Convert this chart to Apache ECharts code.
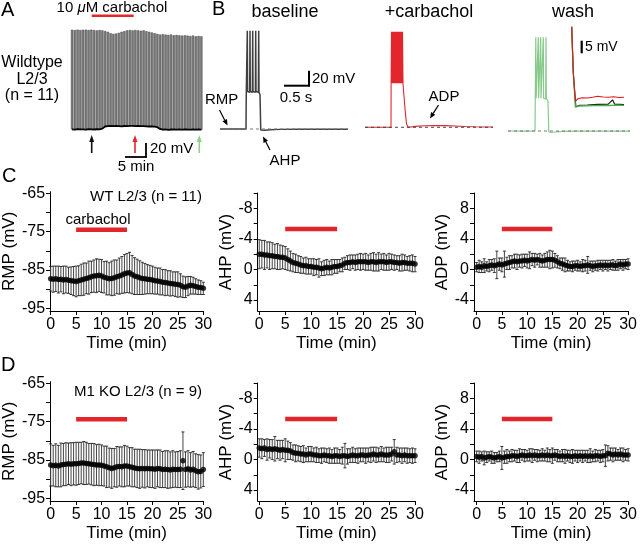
<!DOCTYPE html>
<html><head><meta charset="utf-8">
<script src="https://cdn.jsdelivr.net/npm/echarts@6/dist/echarts.min.js"></script>
<style>html,body{margin:0;padding:0;background:#fff}#c{width:640px;height:544px}</style>
</head><body><div id="c"></div>
<script>
const FONT = '"Liberation Sans", Arial, Helvetica, sans-serif';
const RED = '#e3262b', GREEN = '#86c98a';

// ---------- Panel A: sweep envelope (mV) ----------
const sweepNo = [1,2,3,4,5,6,7,8,9,10,11,12,13,14,15,16,17,18,19,20,21,22,23,24,25,26,27,28,29,30,31,32,33,34,35,36,37,38,39,40,41,42,43,44,45,46,47,48];
const sweepTop = [55,54.5,55,54.5,55,55, 54.5,55,54.5,54,54.5,54, 53,52,50,49, 49.5,50.5,52,53,
  54,54.5,54,54.5,54,53.5,54, 53,52,51,50,49,48, 48.5,48,47.5,48,47,47.5,47,46.5,47, 46.5,46,46.5,45.5,46,45.5];
const sweepBase = [-87,-87.5,-86.8,-87.2,-87,-87.5,-86.8,-87,-87.3,-86.9,-87.1,-86,
  -83,-82.5,-82.3,-82.6,-82.2,-82.4,-82.8,-82.3,-82.5,-82.2,-82,-82.4,-82.3,-82.6,-82.5,-82.8,-83,-82.7,-83.2,-84,
  -86.5,-87.5,-87,-87.8,-87.3,-87,-87.5,-87.2,-87.6,-87,-87.3,-87.5,-87,-87.4,-87.2,-87.5];
const carbPeriod = [5, 15];

// ---------- Panel B: example traces [time s, mV] ----------
const baselineTrace = [[0,-87],[0.2,-87.1],[0.4,-86.9],[0.52,-87],[0.525,-42],[0.54,-40],[0.546,44],[0.552,-37],[0.594,-38],[0.6,44],[0.606,-37],[0.648,-38],[0.654,44],[0.66,-37],[0.708,-38],[0.714,44],[0.72,-37],[0.768,-38],[0.774,44],[0.78,-38],[0.8,-41],[0.815,-88.5],[0.84,-89.4],[0.9,-88.8],[1.0,-88.0],[1.2,-87.5],[1.6,-87.3],[2.0,-87.2],[2.56,-87.2]];
const carbTrace = [[0,-84.7],[0.3,-84.6],[0.52,-84.7],[0.522,-30],[0.53,42.7],[0.54,-26],[0.55,42.7],[0.56,-26],[0.57,42.7],[0.58,-26],[0.59,42.7],[0.6,-26],[0.61,42.7],[0.62,-26],[0.63,42.7],[0.64,-26],[0.65,42.7],[0.66,-26],[0.67,42.7],[0.68,-26],[0.69,42.7],[0.70,-26],[0.71,42.7],[0.72,-26],[0.73,42.7],[0.74,-26],[0.75,42.7],[0.76,-27],[0.78,-28],[0.8,-60],[0.83,-80],[0.86,-84.5],[0.92,-84.3],[1.0,-83.5],[1.2,-82.6],[1.4,-82.3],[1.6,-82.5],[1.8,-83.0],[2.0,-83.6],[2.2,-84.0],[2.4,-84.3],[2.56,-84.4]];
const washTrace = [[0,-89.7],[0.3,-89.8],[0.54,-89.7],[0.545,-50],[0.556,35.3],[0.562,-46],[0.6,-47],[0.606,35.3],[0.612,-46],[0.648,-47],[0.654,35.3],[0.66,-46],[0.70,-47],[0.706,35.3],[0.712,-46],[0.754,-47],[0.76,35.3],[0.766,-46],[0.79,-48],[0.8,-50],[0.815,-90.5],[0.86,-91.7],[0.95,-91.0],[1.1,-90.2],[1.4,-89.9],[1.8,-89.8],[2.44,-89.8]];
const baselineRMP = [-87, -84.7, -89.7];
const insetRed = [[0,-0.7],[0.03,-20],[0.07,-32.3],[0.12,-31.2],[0.2,-30.8],[0.3,-30.9],[0.4,-30.6],[0.5,-30.2],[0.6,-30.5],[0.7,-30.6],[0.8,-30.4],[0.9,-30.7],[1.0,-30.6]];
const insetBlack = [[0,-0.7],[0.03,-20],[0.08,-34.6],[0.15,-34.0],[0.3,-33.9],[0.5,-33.6],[0.7,-33.5],[0.78,-31.7],[0.82,-33.5],[1.0,-33.7]];
const insetGreen = [[0,-0.7],[0.03,-20],[0.07,-34.8],[0.15,-34.3],[0.3,-34.2],[0.5,-34.0],[0.7,-34.1],[0.9,-33.9],[1.0,-34.0]];

// ---------- Panels C/D: time course ----------
const timeMin = [0,0.5,1,1.5,2,2.5,3,3.5,4,4.5,5,5.5,6,6.5,7,7.5,8,8.5,9,9.5,10,10.5,11,11.5,12,12.5,13,13.5,14,14.5,15,15.5,16,16.5,17,17.5,18,18.5,19,19.5,20,20.5,21,21.5,22,22.5,23,23.5,24,24.5,25,25.5,26,26.5,27,27.5,28,28.5,29,29.5,30];
const wtRMP = [-87.3,-87.4,-87.3,-87.5,-87.4,-87.6,-87.5,-87.7,-87.8,-87.9, -88.0,-87.8,-87.6,-87.4,-87.2,-87.0,-86.8,-86.6,-86.5,-86.4,
  -86.6,-86.9,-87.1,-87.3,-87.2,-87.0,-86.8,-86.6,-86.3,-86.0, -85.8,-85.7,-86.2,-86.6,-86.8,-87.0,-87.2,-87.3,-87.4,-87.5,
  -87.6,-87.8,-87.9,-88.0,-88.2,-88.3,-88.4,-88.5,-88.6,-88.7, -88.8,-89.0,-89.4,-89.5,-89.2,-89.0,-89.1,-89.3,-89.5,-89.6,-89.8];
const wtRMPerr = [3.2,3.4,3.3,3.5,3.3,3.6,3.5,3.4,3.6,3.8, 4.0,3.9,4.1,4.2,4.0,4.3,4.1,4.2,4.4,4.2,
  4.3,4.1,4.4,4.2,4.5,4.6,4.4,4.7,4.8,5.0, 5.1,5.3,5.0,4.8,4.6,4.4,4.2,4.0,3.8,3.7,
  3.6,3.5,3.4,3.5,3.3,3.4,3.2,3.3,3.1,3.2, 3.3,3.0,2.8,2.7,2.5,2.3,2.2,2.0,1.9,1.8,1.6];
const wtAHP = [-2.0,-2.0,-1.9,-1.9,-1.8,-1.8,-1.7,-1.7,-1.6,-1.6, -1.5,-1.3,-1.1,-0.9,-0.8,-0.7,-0.6,-0.5,-0.5,-0.4,
  -0.4,-0.3,-0.3,-0.2,-0.1,-0.2,-0.3,-0.2,-0.3,-0.4, -0.4,-0.5,-0.6,-0.8,-0.9,-0.9,-1.0,-0.9,-1.0,-1.0,
  -1.0,-1.0,-0.9,-1.0,-1.0,-0.9,-1.0,-1.0,-1.0,-0.9, -1.0,-1.0,-0.9,-0.9,-0.8,-0.9,-0.9,-0.8,-0.8,-0.8,-0.7];
const wtAHPerr = [1.9,1.8,1.9,1.7,1.8,1.7,1.6,1.7,1.6,1.5, 1.5,1.4,1.3,1.2,1.2,1.1,1.1,1.0,1.1,1.0,
  1.0,1.1,1.0,1.2,0.9,1.0,1.0,0.9,1.0,0.9, 0.9,0.8,0.9,0.8,0.9,1.0,0.9,1.0,1.0,1.1,
  1.0,1.1,1.0,1.1,1.2,1.1,1.2,1.0,1.1,1.0, 1.1,1.0,1.0,0.9,1.0,1.1,1.0,0.9,1.0,1.1,1.0];
const wtADP = [0.3,0.4,0.3,0.5,0.4,0.5,0.6,0.5,0.6,0.7, 0.6,0.7,0.8,0.9,1.0,1.1,1.0,1.1,1.1,1.2,
  1.1,1.2,1.3,1.2,1.3,1.2,1.1,1.2,1.3,1.3, 1.3,1.2,1.0,0.8,0.7,0.6,0.5,0.4,0.4,0.5,
  0.5,0.4,0.5,0.5,0.6,0.5,0.4,0.5,0.5,0.6, 0.5,0.6,0.5,0.6,0.6,0.5,0.6,0.7,0.6,0.7,0.7];
const wtADPerr = [0.6,0.8,0.7,0.9,0.6,0.8,0.7,0.9,1.8,0.8, 0.9,1.7,0.8,0.9,0.8,0.9,1.0,0.8,0.9,0.8,
  0.9,1.1,0.8,0.9,0.7,0.9,0.8,0.9,1.0,1.2, 1.1,0.9,0.8,0.7,0.8,0.9,0.7,0.6,0.7,0.6,
  0.7,0.6,0.8,0.7,1.1,0.6,0.7,0.6,0.7,0.6, 0.7,0.6,0.7,0.6,0.7,0.6,0.7,0.6,0.7,0.6,0.7];
const koRMP = [-86.3,-86.5,-86.4,-86.6,-86.3,-86.2,-86.1,-86.0,-86.1,-86.0, -86.0,-85.9,-85.8,-85.8,-85.9,-86.0,-86.1,-86.2,-86.3,-86.3,
  -86.4,-86.6,-86.8,-87.0,-87.2,-87.0,-86.8,-86.7,-86.8,-86.6, -86.6,-86.8,-86.9,-87.1,-87.2,-87.3,-87.2,-87.3,-87.2,-87.3,
  -87.3,-87.4,-87.2,-87.3,-87.5,-87.4,-87.5,-87.6,-87.4,-87.5, -87.5,-87.4,-85.2,-87.5,-87.3,-87.6,-87.4,-87.8,-88.1,-88.0,-87.5];
const koRMPerr = [5.5,5.3,5.6,5.4,5.7,5.5,5.6,5.4,5.6,5.5, 5.6,5.5,5.4,5.6,5.5,5.3,5.4,5.5,5.3,5.4,
  5.3,5.2,5.4,5.1,5.2,5.0,5.3,5.1,5.2,5.4, 5.2,5.0,5.1,4.9,5.0,5.1,4.9,5.0,4.8,4.9,
  4.9,5.0,4.8,4.9,4.7,4.8,4.9,4.7,4.8,4.6, 4.7,4.8,7.5,4.6,4.7,4.5,4.6,4.4,4.5,4.3,4.4];
const koAHP = [-1.5,-1.4,-1.5,-1.3,-1.4,-1.3,-1.4,-1.3,-1.2,-1.3, -1.2,-1.2,-1.1,-0.9,-0.8,-0.8,-0.7,-0.7,-0.6,-0.7,
  -0.7,-0.6,-0.6,-0.5,-0.5,-0.6,-0.5,-0.5,-0.4,-0.5, -0.5,-0.4,-0.5,-0.5,-0.4,-0.5,-0.6,-0.5,-0.5,-0.6,
  -0.6,-0.5,-0.6,-0.6,-0.7,-0.6,-0.6,-0.7,-0.6,-0.6, -0.6,-0.7,-1.0,-0.6,-0.6,-0.5,-0.6,-0.5,-0.5,-0.5,-0.5];
const koAHPerr = [1.2,1.3,1.1,1.4,1.2,1.3,1.6,1.2,1.3,1.2, 1.5,1.2,1.1,1.0,1.1,1.0,1.0,1.1,0.9,1.0,
  1.0,0.9,1.0,0.9,1.0,0.9,0.9,1.0,0.9,1.0, 1.0,0.9,1.1,1.6,1.0,0.9,1.0,0.9,1.0,0.9,
  0.9,1.0,0.9,1.0,0.9,1.0,0.9,1.0,0.9,1.0, 1.0,0.9,1.6,1.0,0.9,1.0,0.9,1.0,0.9,1.0,0.9];
const koADP = [0.4,0.3,0.4,0.2,0.3,0.4,0.3,0.2,0.3,0.4, 0.2,0.3,0.4,0.4,0.5,0.5,0.4,0.5,0.6,0.5,
  0.5,0.6,0.5,0.6,0.5,0.5,0.6,0.5,0.6,0.5, 0.5,0.6,0.5,0.4,0.5,0.4,0.5,0.4,0.4,0.5,
  0.4,0.5,0.4,0.5,0.4,0.5,0.4,0.5,0.5,0.4, 0.5,0.5,0.8,0.7,0.6,0.7,0.6,0.7,0.6,0.6,0.6];
const koADPerr = [0.7,0.8,0.6,0.9,0.7,0.6,0.8,0.7,0.6,0.7, 1.5,0.8,0.9,0.7,0.8,0.7,0.8,0.9,0.7,0.8,
  0.7,0.8,0.9,0.7,0.8,0.7,0.8,0.7,0.9,0.8, 1.0,0.7,0.8,0.7,0.8,0.9,0.7,0.8,0.9,0.7,
  0.8,0.7,0.8,0.7,0.8,0.9,0.7,0.8,0.7,0.8, 0.8,1.4,1.0,0.8,0.9,0.8,0.7,0.8,0.9,0.7,0.8];
const xTicks = [0,5,10,15,20,25,30];
const rmpTicks = [-95,-90,-85,-80,-75,-70,-65], rmpLabels = [-95,-85,-75,-65];
const ahpTicks = [-10,-8,-6,-4,-2,0,2,4], ahpLabels = [-8,-4,0,4];
const adpTicks = [-4,-2,0,2,4,6,8,10], adpLabels = [-4,0,4,8];

const chart = echarts.init(document.getElementById('c'));

const grids = [
  {left:70.7, top:15.2, width:132, height:130.2},   // 0 A
  {left:220, top:18.75, width:128, height:120},     // 1 B baseline
  {left:365, top:18.75, width:128, height:120},     // 2 B carbachol
  {left:508, top:18.75, width:122, height:120},     // 3 B wash
  {left:571.7, top:25, width:52.3, height:85},      // 4 inset
  {left:47, top:191.7, width:156.3, height:119.3},  // 5 C RMP
  {left:257.7, top:193, width:157.3, height:118},   // 6 C AHP
  {left:474, top:193, width:157.7, height:118},     // 7 C ADP
  {left:47, top:381.7, width:156.3, height:119.3},  // 8 D RMP
  {left:257.7, top:383, width:157.3, height:118},   // 9 D AHP
  {left:474, top:383, width:157.7, height:118}      // 10 D ADP
];

function hiddenX(gi, min, max){ return {type:'value', gridIndex:gi, min, max, show:false}; }
function hiddenY(gi, min, max){ return {type:'value', gridIndex:gi, min, max, show:false}; }
function timeAxis(gi, min){
  return {type:'value', gridIndex:gi, min, max:30, name:'Time (min)', nameLocation:'middle', nameGap:24,
    nameTextStyle:{fontSize:17, color:'#000', fontFamily:FONT},
    axisLine:{show:true, onZero:false, lineStyle:{color:'#000', width:1}},
    axisTick:{show:true, length:4, customValues:xTicks, lineStyle:{color:'#000'}},
    axisLabel:{customValues:xTicks, fontSize:16, color:'#000', margin:6, fontFamily:FONT},
    splitLine:{show:false}};
}
function measAxis(gi, min, max, ticks, labels, name, gap, inverse){
  return {type:'value', gridIndex:gi, min, max, inverse:!!inverse, name, nameLocation:'middle', nameGap:gap,
    nameTextStyle:{fontSize:17, color:'#000', fontFamily:FONT},
    axisLine:{show:true, onZero:false, lineStyle:{color:'#000', width:1}},
    axisTick:{show:true, length:4, customValues:ticks, lineStyle:{color:'#000'}},
    axisLabel:{customValues:labels, fontSize:16, color:'#000', margin:5, fontFamily:FONT},
    splitLine:{show:false}};
}

const xAxis = [
  {type:'category', gridIndex:0, data:sweepNo, show:false, boundaryGap:true},
  hiddenX(1,0,2.56), hiddenX(2,0,2.56), hiddenX(3,0,2.44), hiddenX(4,0,1),
  timeAxis(5,-0.13), timeAxis(6,-0.3), timeAxis(7,-0.52),
  timeAxis(8,-0.13), timeAxis(9,-0.3), timeAxis(10,-0.52),
  hiddenX(0,0,31.43)
];
const yAxis = [
  hiddenY(0,-110,76), hiddenY(1,-100,60), hiddenY(2,-100,60), hiddenY(3,-100,60), hiddenY(4,-36,0),
  measAxis(5,-95.7,-64.6,rmpTicks,rmpLabels,'RMP (mV)',30),
  measAxis(6,-10,5.43,ahpTicks,ahpLabels,'AHP (mV)',22,true),
  measAxis(7,-5.43,10,adpTicks,adpLabels,'ADP (mV)',18),
  measAxis(8,-95.7,-64.6,rmpTicks,rmpLabels,'RMP (mV)',30),
  measAxis(9,-10,5.43,ahpTicks,ahpLabels,'AHP (mV)',22,true),
  measAxis(10,-5.43,10,adpTicks,adpLabels,'ADP (mV)',18)
];

function errItem(params, api){
  const x = api.value(0), m = api.value(1), e = api.value(2);
  const hi = api.coord([x, m + e]), lo = api.coord([x, m - e]);
  const c = 1.5;
  return {type:'group', children:[
    {type:'line', shape:{x1:hi[0], y1:hi[1], x2:lo[0], y2:lo[1]}, style:{stroke:'#444', lineWidth:1}},
    {type:'line', shape:{x1:hi[0]-c, y1:hi[1], x2:hi[0]+c, y2:hi[1]}, style:{stroke:'#222', lineWidth:0.9}},
    {type:'line', shape:{x1:lo[0]-c, y1:lo[1], x2:lo[0]+c, y2:lo[1]}, style:{stroke:'#222', lineWidth:0.9}}
  ]};
}
function panelSeries(gi, means, errs, barY){
  return [
    {type:'custom', xAxisIndex:gi, yAxisIndex:gi, renderItem:errItem, silent:true, z:2,
      data: timeMin.map((t,i)=>[t, means[i], errs[i]])},
    {type:'scatter', xAxisIndex:gi, yAxisIndex:gi, symbolSize:5.5, silent:true, z:3,
      itemStyle:{color:'#000'}, data: timeMin.map((t,i)=>[t, means[i]])},
    {type:'line', xAxisIndex:gi, yAxisIndex:gi, symbol:'none', silent:true, z:4,
      lineStyle:{color:RED, width:4.5}, data: carbPeriod.map(t=>[t, barY])}
  ];
}
function trace(gi, data, color, width, z){
  return {type:'line', xAxisIndex:gi, yAxisIndex:gi, data, symbol:'none', silent:true, clip:false, z:z||3,
    lineStyle:{color, width}};
}
function dashed(gi, level, x1, color){
  return {type:'line', xAxisIndex:gi, yAxisIndex:gi, data:[[0,level],[x1,level]], symbol:'none', silent:true, z:5,
    lineStyle:{color, width:1, type:[3,3]}};
}

const series = [
  {type:'custom', xAxisIndex:0, yAxisIndex:0, silent:true, z:2,
    data: sweepNo.map((s,i)=>[i, sweepBase[i], sweepTop[i]]),
    renderItem(params, api){
      const t = api.coord([api.value(0), api.value(2)]);
      const b = api.coord([api.value(0), api.value(1)]);
      const w = api.size([1,0])[0]*0.66;
      return {type:'rect', shape:{x:t[0]-w/2, y:t[1], width:w, height:b[1]-t[1]},
        style:{fill:'#7a7a7a', stroke:'#4d4d4d', lineWidth:0.5}};
    }},
  {type:'line', xAxisIndex:0, yAxisIndex:0, data:sweepBase, symbol:'none', silent:true, z:3,
    lineStyle:{color:'#000', width:1.8}},
  {type:'line', xAxisIndex:11, yAxisIndex:0, data:carbPeriod.map(t=>[t,75.3]), symbol:'none', silent:true, z:3,
    lineStyle:{color:RED, width:2.5}},
  trace(1, baselineTrace, '#404040', 1.5), dashed(1, baselineRMP[0], 2.56, '#777'),
  trace(2, carbTrace, RED, 1.1), dashed(2, baselineRMP[1], 2.56, '#444'),
  trace(3, washTrace, GREEN, 1.2), dashed(3, baselineRMP[2], 2.44, '#777'),
  trace(4, insetBlack, '#111', 1.1, 3), trace(4, insetGreen, '#4caf50', 1.3, 4), trace(4, insetRed, '#e0191f', 1.1, 5),
  ...panelSeries(5, wtRMP, wtRMPerr, -74.5),
  ...panelSeries(6, wtAHP, wtAHPerr, -5.3),
  ...panelSeries(7, wtADP, wtADPerr, 5.3),
  ...panelSeries(8, koRMP, koRMPerr, -74.4),
  ...panelSeries(9, koAHP, koAHPerr, -5.3),
  ...panelSeries(10, koADP, koADPerr, 5.3)
];

// ---------- annotations ----------
function txt(text, x, y, size, align, extra){
  return Object.assign({type:'text', x, y, silent:true, style:Object.assign({text, fontSize:size, fontFamily:FONT, fill:'#000',
    align:align||'center', verticalAlign:'middle', textAlign:align||'center', textVerticalAlign:'middle'}, extra||{})});
}
function seg(x1,y1,x2,y2,color,w){
  return {type:'line', silent:true, shape:{x1,y1,x2,y2}, style:{stroke:color||'#000', lineWidth:w||1.5}};
}
function arrow(x1,y1,x2,y2,color,hl,hw,w){
  const dx=x2-x1, dy=y2-y1, L=Math.hypot(dx,dy), ux=dx/L, uy=dy/L;
  const bx=x2-ux*hl, by=y2-uy*hl, px=-uy*hw/2, py=ux*hw/2;
  return [seg(x1,y1,bx,by,color,w),
    {type:'polygon', silent:true, shape:{points:[[x2,y2],[bx+px,by+py],[bx-px,by-py]]}, style:{fill:color}}];
}
const graphic = [
  txt('A', 1, 10, 20, 'left'), txt('B', 212, 9, 20, 'left'),
  txt('C', 2, 176, 20, 'left'), txt('D', 1, 365, 20, 'left'),
  {type:'text', x:112, y:8, silent:true, style:{text:'{a|10 }{b|μ}{a|M carbachol}', align:'center', verticalAlign:'middle',
    textAlign:'center', textVerticalAlign:'middle',
    rich:{a:{fontSize:15, fontFamily:FONT, fill:'#000', color:'#000'}, b:{fontSize:15, fontFamily:FONT, fontStyle:'italic', fill:'#000', color:'#000'}}}},
  txt('Wildtype', 32, 63, 16), txt('L2/3', 32, 79.5, 16), txt('(n = 11)', 32, 96, 16),
  ...arrow(91.7,153,91.7,135,'#111',7,5,1.6),
  ...arrow(135,153,135,135,RED,7,5,1.6),
  ...arrow(199.3,153,199.3,135,'#8fd08f',7,5,1.6),
  seg(146,143,146,157.5,'#000',1.8), seg(125,157,146.8,157,'#000',1.8),
  txt('20 mV', 150, 149, 15, 'left'), txt('5 min', 136, 167, 15),
  txt('baseline', 285, 12, 18), txt('+carbachol', 429, 12, 18), txt('wash', 573, 12, 18),
  seg(309,70.7,309,86.5,'#000',2), seg(284,85.7,309.8,85.7,'#000',2),
  txt('20 mV', 312, 79, 15, 'left'), txt('0.5 s', 296, 98, 15),
  txt('RMP', 205, 100, 15, 'left'), ...arrow(219.5,110,227.5,125.5,'#000',6,5,1.2),
  txt('AHP', 285, 161, 15), ...arrow(270,150,263,136.5,'#000',6,5,1.2),
  txt('ADP', 444, 97, 15), ...arrow(438.5,105,430,118.5,'#000',6,5,1.2),
  seg(581.7,40.7,581.7,53.3,'#000',2.2), txt('5 mV', 585, 47, 14, 'left'),
  txt('WT L2/3 (n = 11)', 146, 197, 15), txt('carbachol', 98, 220, 15),
  txt('M1 KO L2/3 (n = 9)', 138, 391.5, 15)
];

chart.setOption({animation:false, backgroundColor:'#fff', grid:grids, xAxis, yAxis, series, graphic,
  textStyle:{fontFamily:FONT}});
</script></body></html>
